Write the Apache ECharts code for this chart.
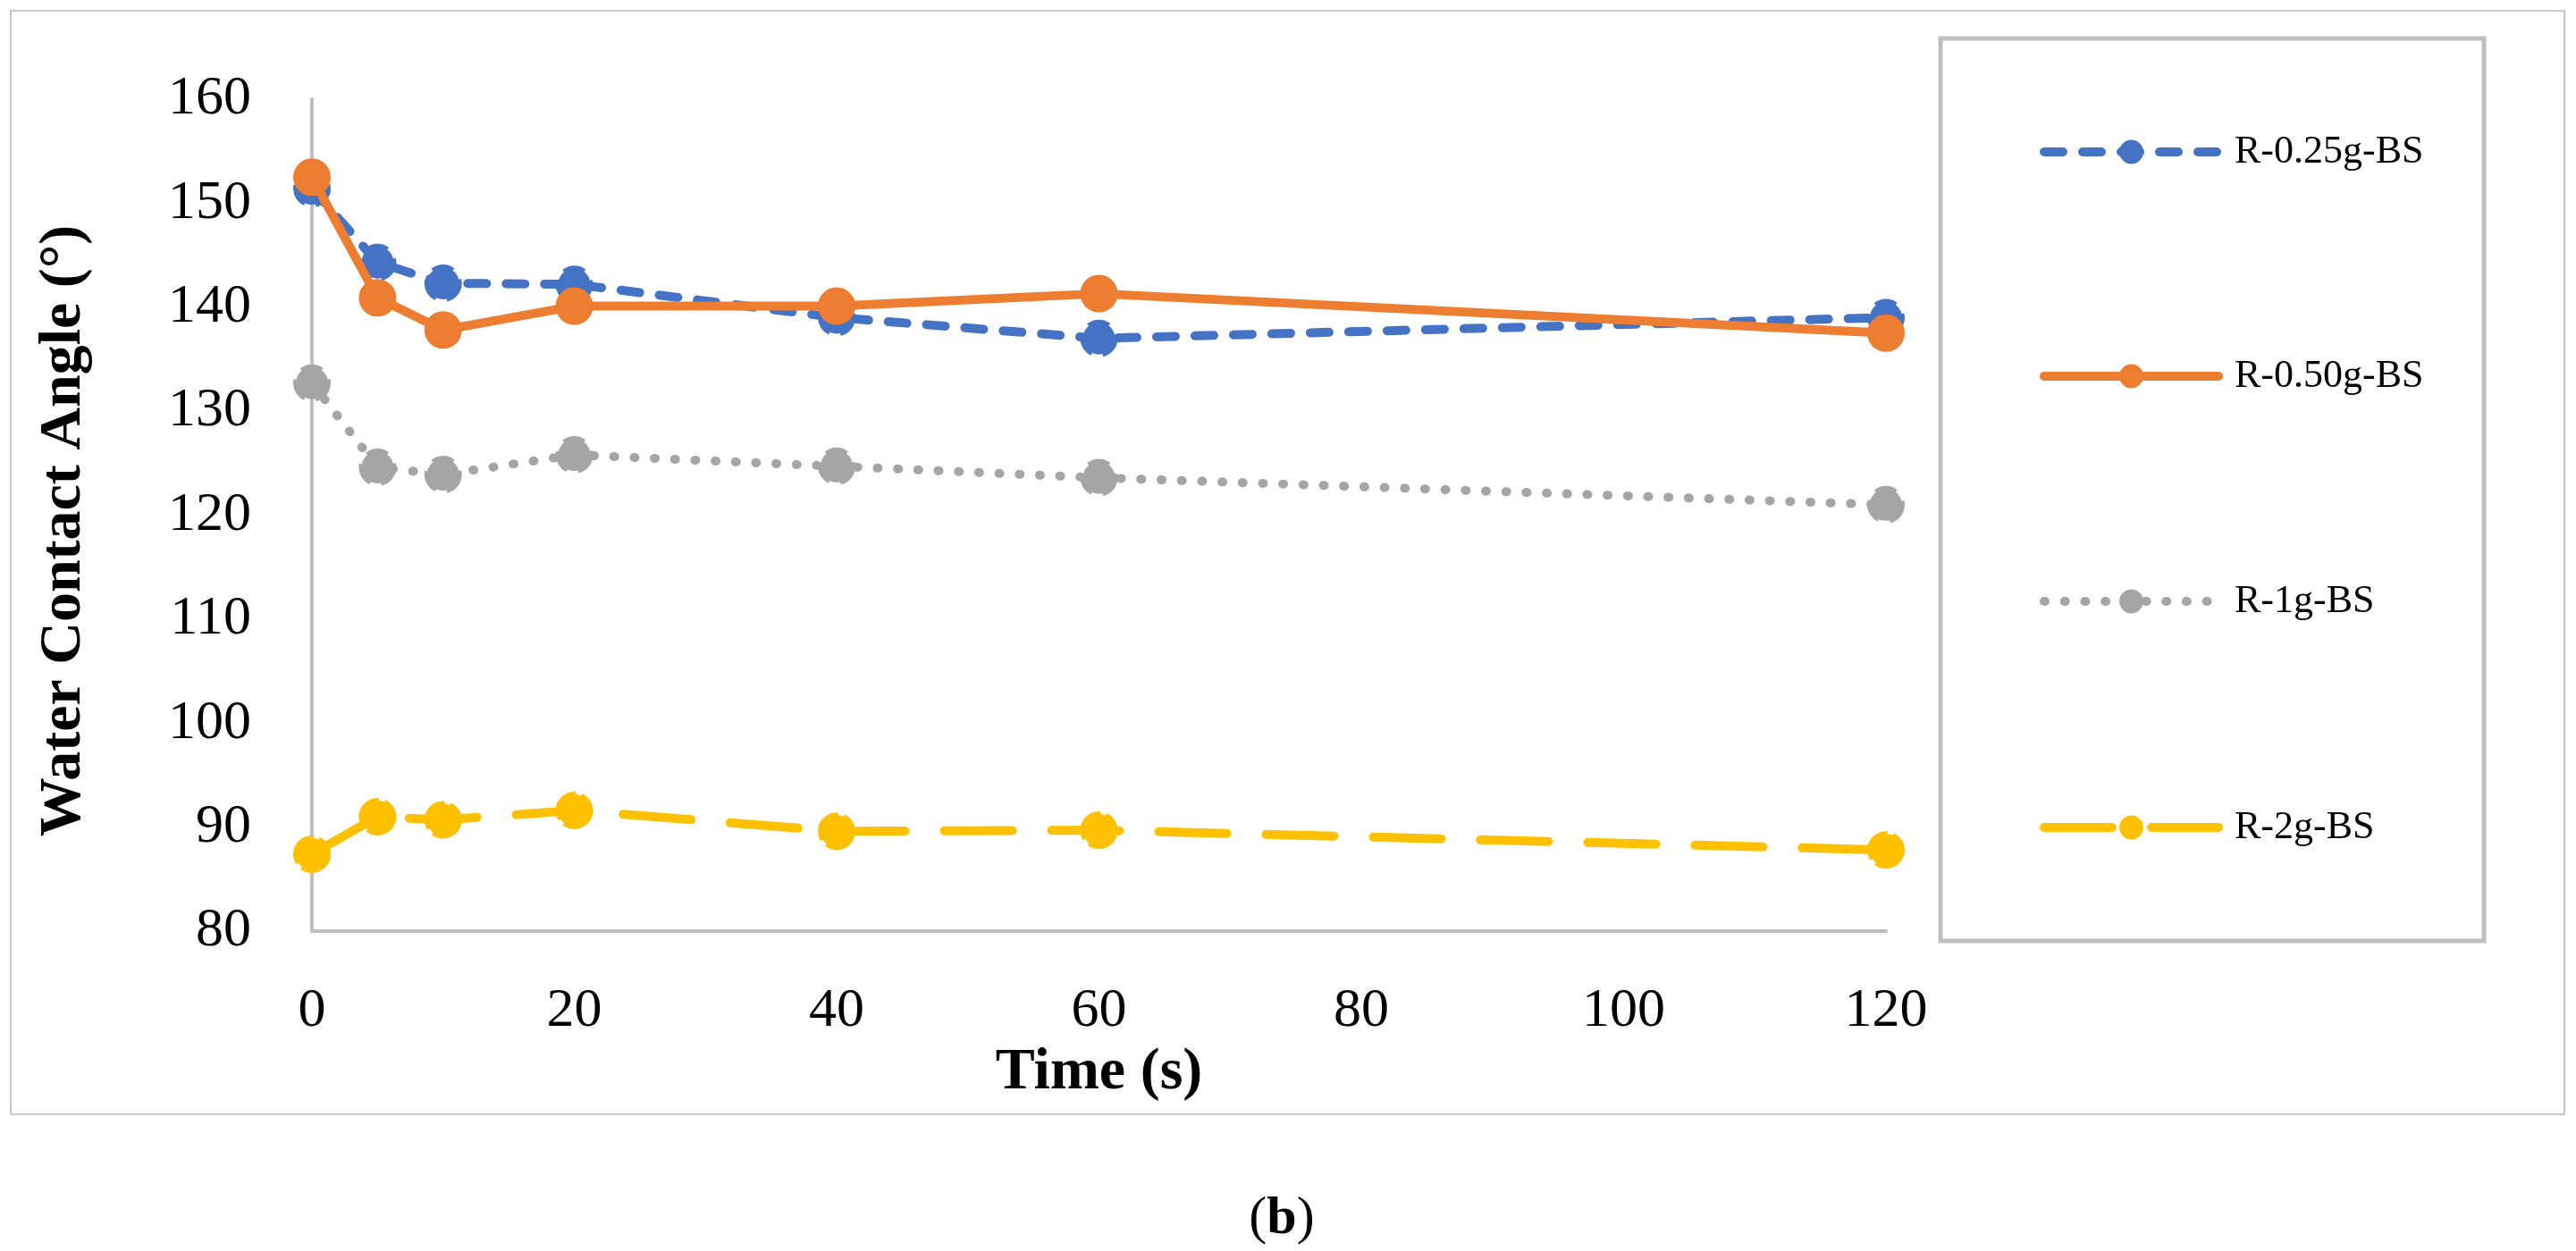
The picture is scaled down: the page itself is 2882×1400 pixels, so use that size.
<!DOCTYPE html>
<html>
<head>
<meta charset="utf-8">
<script src="https://cdn.jsdelivr.net/npm/echarts@6/dist/echarts.min.js"></script>
<style>
html,body{margin:0;padding:0;background:#fff;}
#chart{width:2882px;height:1400px;}
</style>
</head>
<body>
<div id="chart"></div>
<script>
// ---- data ----
const timeS = [0, 5, 10, 20, 40, 60, 120];
const seriesNames = ['R-0.25g-BS', 'R-0.50g-BS', 'R-1g-BS', 'R-2g-BS'];
const r025 = [151.4, 144.3, 142.3, 142.2, 139.0, 137.0, 139.0];
const r050 = [152.5, 140.9, 137.8, 140.1, 140.1, 141.3, 137.5];
const r1   = [132.7, 124.6, 123.9, 125.8, 124.7, 123.6, 121.0];
const r2   = [87.4, 91.0, 90.7, 91.6, 89.6, 89.7, 87.8];
const xTicks = { min: 0, max: 120, interval: 20 };
const yTicks = { min: 80, max: 160, interval: 10 };
const xTitle = 'Time (s)';
const yTitle = 'Water Contact Angle (°)';

const FONT = '"Liberation Serif", "Times New Roman", serif';
const colors = ['#4472C4', '#ED7D31', '#A5A5A5', '#FFC000'];
const dashes = [[21, 22], 'solid', [1, 21.7], [76, 44]];
const markerBorder = ['dashed', 'solid', 'dashed', [40, 6]];
const values = [r025, r050, r1, r2];

const pairs = v => timeS.map((t, i) => [t, v[i]]);

const series = values.map((v, k) => ({
  name: seriesNames[k],
  type: 'line',
  data: pairs(v),
  symbol: 'circle',
  symbolSize: 36,
  showSymbol: true,
  lineStyle: { color: colors[k], width: 10, type: dashes[k], cap: 'round', join: 'round' },
  itemStyle: { color: colors[k], borderColor: colors[k], borderWidth: 6, borderType: markerBorder[k] },
  emphasis: { disabled: true },
  z: 2 + k
}));

const legendCenters = [170, 421, 673, 926];
const legends = seriesNames.map((n, k) => ({
  data: [n],
  orient: 'vertical',
  left: 2282,
  top: legendCenters[k] - 22,
  padding: 0,
  itemWidth: 195,
  itemHeight: 31,
  selectedMode: false,
  lineStyle: { width: 10 },
  textStyle: { fontFamily: FONT, fontSize: 44, lineHeight: 44, color: '#000', padding: [0, 0, 0, 13] }
}));

const chart = echarts.init(document.getElementById('chart'), null, { renderer: 'canvas', devicePixelRatio: 1 });
chart.setOption({
  animation: false,
  backgroundColor: '#fff',
  grid: { left: 349, top: 111, width: 1761, height: 931, containLabel: false },
  legend: legends,
  xAxis: {
    type: 'value',
    min: xTicks.min, max: xTicks.max, interval: xTicks.interval,
    name: xTitle,
    nameLocation: 'middle',
    nameGap: 120,
    nameTextStyle: { fontFamily: FONT, fontSize: 66, fontWeight: 'bold', color: '#000' },
    axisLine: { show: true, lineStyle: { color: '#BFBFBF', width: 4 } },
    axisTick: { show: false },
    splitLine: { show: false },
    axisLabel: { margin: 59, fontFamily: FONT, fontSize: 62, color: '#000' }
  },
  yAxis: {
    type: 'value',
    min: yTicks.min, max: yTicks.max, interval: yTicks.interval,
    axisLine: { show: true, lineStyle: { color: '#BFBFBF', width: 4 } },
    axisTick: { show: false },
    splitLine: { show: false },
    axisLabel: { margin: 68, fontFamily: FONT, fontSize: 62, color: '#000' }
  },
  graphic: [
    { type: 'rect', silent: true, z: -1, shape: { x: 12, y: 12, width: 2857, height: 1235 },
      style: { fill: 'none', stroke: '#C8C8C8', lineWidth: 2 } },
    { type: 'rect', silent: true, z: -1, shape: { x: 2171, y: 43, width: 608, height: 1010 },
      style: { fill: 'none', stroke: '#BFBFBF', lineWidth: 5 } },
    { type: 'text', silent: true, x: 72, y: 594, rotation: Math.PI / 2,
      style: { text: yTitle, fontFamily: FONT, fontSize: 66, fontWeight: 'bold', fill: '#000',
        align: 'center', verticalAlign: 'middle' } },
    { type: 'text', silent: true, x: 1434, y: 1364,
      style: { text: '({b|b})', fontFamily: FONT, fontSize: 60, fill: '#000', align: 'center', verticalAlign: 'middle',
        rich: { b: { fontFamily: FONT, fontSize: 60, fontWeight: 'bold', fill: '#000' } } } }
  ],
  series: series
});
</script>
</body>
</html>
